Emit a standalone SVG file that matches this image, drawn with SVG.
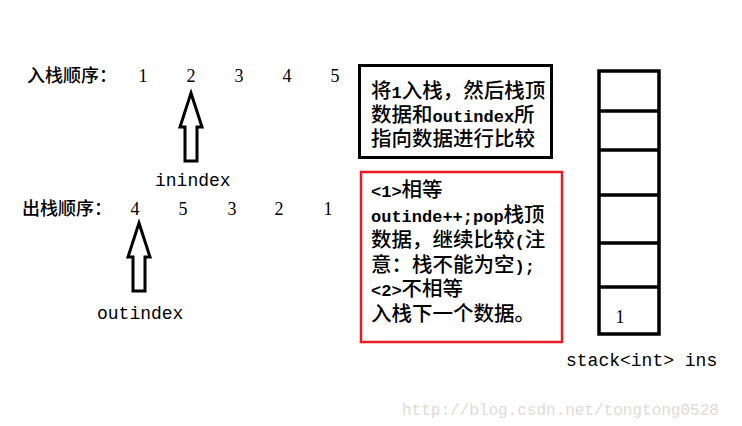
<svg xmlns="http://www.w3.org/2000/svg" width="742" height="426" viewBox="0 0 742 426">
<style>
.cjk{font-family:"Noto Sans CJK SC",sans-serif;fill:#000;font-weight:500;}
.l{font-family:"Liberation Mono",monospace;font-size:17px;fill:#000;font-weight:bold;}
.num{font-family:"Liberation Serif",serif;font-size:18px;text-anchor:middle;fill:#000;}
.mono{font-family:"Liberation Mono",monospace;font-size:18px;fill:#000;}
.box{font-size:20.5px;}
.arrow{fill:#fff;stroke:#000;stroke-width:3;stroke-linejoin:miter;}
.cell{fill:#fff;stroke:#000;stroke-width:3.5;}
.div{stroke:#000;stroke-width:3.5;}
</style>
<rect width="742" height="426" fill="#fff"/>
<g id="in-order">
<text class="cjk" x="27" y="82" font-size="18">入栈顺序：</text>
<text class="num" x="143" y="82">1</text>
<text class="num" x="191" y="82">2</text>
<text class="num" x="239" y="82">3</text>
<text class="num" x="287" y="82">4</text>
<text class="num" x="335" y="82">5</text>
</g>
<g id="out-order">
<text class="cjk" x="22" y="215" font-size="18">出栈顺序：</text>
<text class="num" x="135" y="215">4</text>
<text class="num" x="183" y="215">5</text>
<text class="num" x="232" y="215">3</text>
<text class="num" x="279" y="215">2</text>
<text class="num" x="328" y="215">1</text>
</g>
<g id="connectors">
<polygon class="arrow" points="191,93 202,127 197,127 197,161 185,161 185,127 180,127"/>
<polygon class="arrow" points="139,223 150,257 145,257 145,291 133,291 133,257 128,257"/>
</g>
<g id="inindex">
<text class="mono" x="155" y="186">inindex</text>
</g>
<g id="outindex">
<text class="mono" x="97" y="319">outindex</text>
</g>
<g id="step-box">
<rect x="359.5" y="65.5" width="192" height="92" fill="#fff" stroke="#000" stroke-width="3"/>
<text class="cjk box" x="371" y="98">将</text>
<text class="l" x="391.5" y="98">1</text>
<text class="cjk box" x="401.7" y="98">入栈，然后栈顶</text>
<text class="cjk box" x="371" y="122">数据和</text>
<text class="l" x="432.5" y="122">outindex</text>
<text class="cjk box" x="514.1" y="122">所</text>
<text class="cjk box" x="371" y="146">指向数据进行比较</text>
</g>
<g id="compare-box">
<rect x="361" y="172" width="201" height="170" fill="#fff" stroke="#ed1c24" stroke-width="2.5"/>
<text class="l" x="371" y="197">&lt;1&gt;</text>
<text class="cjk box" x="401.6" y="197">相等</text>
<text class="l" x="371" y="222">outinde++;pop</text>
<text class="cjk box" x="503.6" y="222">栈顶</text>
<text class="cjk box" x="371" y="247">数据，继续比较</text>
<text class="l" x="514.5" y="247">(</text>
<text class="cjk box" x="524.7" y="247">注</text>
<text class="cjk box" x="371" y="272">意：栈不能为空</text>
<text class="l" x="514.5" y="272">);</text>
<text class="l" x="371" y="296">&lt;2&gt;</text>
<text class="cjk box" x="401.6" y="296">不相等</text>
<text class="cjk box" x="371" y="321">入栈下一个数据。</text>
</g>
<g id="stack">
<rect class="cell" x="599" y="71" width="60" height="263"/>
<line class="div" x1="599" y1="111" x2="659" y2="111"/>
<line class="div" x1="599" y1="150" x2="659" y2="150"/>
<line class="div" x1="599" y1="195" x2="659" y2="195"/>
<line class="div" x1="599" y1="243" x2="659" y2="243"/>
<line class="div" x1="599" y1="287" x2="659" y2="287"/>
<text class="num" x="620" y="323">1</text>
<text class="mono" x="566" y="366">stack&lt;int&gt; ins</text>
</g>
<text x="402" y="415" font-family="Liberation Mono,monospace" font-size="16" fill="#dedbd3">http://blog.csdn.net/tongtong0528</text>
</svg>
